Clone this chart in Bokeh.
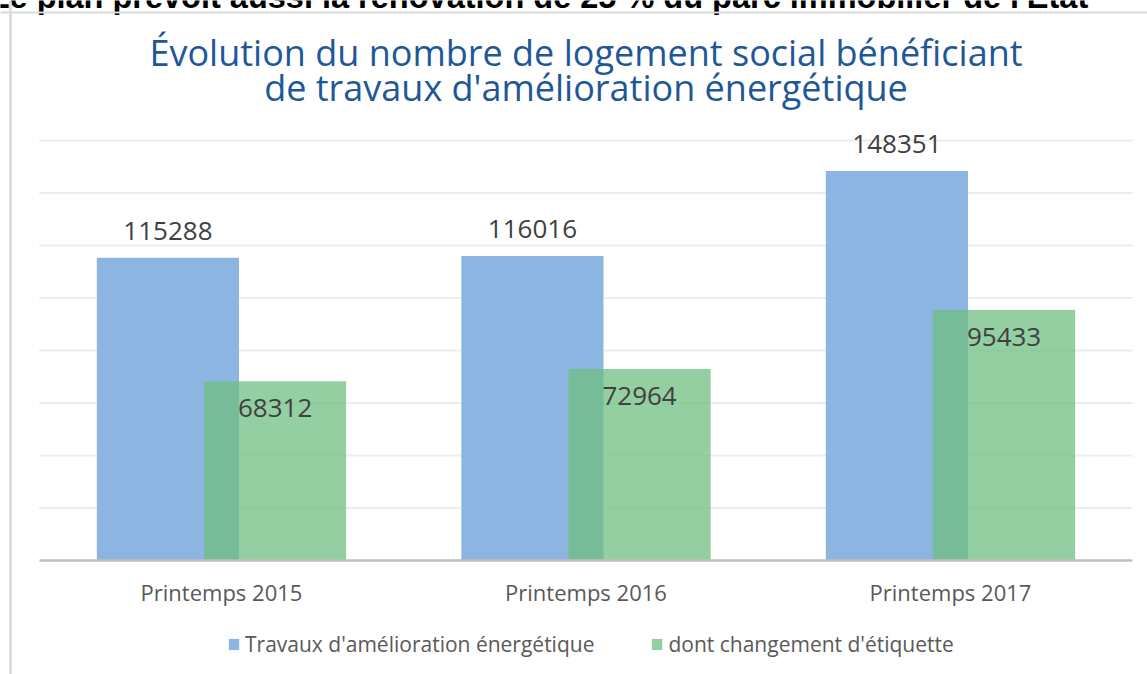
from bokeh.plotting import figure
from bokeh.models import (ColumnDataSource, FixedTicker, Legend, LegendItem, Span, Range1d)
from bokeh.core.properties import value
from bokeh.embed import file_html
from bokeh.resources import INLINE

# ---- data ----
categories = ["Printemps 2015", "Printemps 2016", "Printemps 2017"]
travaux = [115288, 116016, 148351]
etiquette = [68312, 72964, 95433]
series_names = ["Travaux d'amélioration énergétique", "dont changement d'étiquette"]
grid_ticks = [20000, 40000, 60000, 80000, 100000, 120000, 140000, 160000]
title_lines = ["Évolution du nombre de logement social bénéficiant",
               "de travaux d'amélioration énergétique"]
top_text = "Le plan prévoit aussi la rénovation de 25 % du parc immobilier de l'État"

W, H = 1147, 674
BLUE = "#8DB5E2"
GREEN = "#6FBF80"
FONT = "Open Sans"

xs = list(range(len(categories)))
src = ColumnDataSource(dict(
    x=xs,
    xb=[x - 0.147 for x in xs],
    xg=[x + 0.147 for x in xs],
    travaux=travaux,
    etiquette=etiquette,
    tl=[str(v) for v in travaux],
    el=[str(v) for v in etiquette],
))

p = figure(width=W, height=H, output_backend="svg", toolbar_location=None,
           title=None, y_axis_location=None,
           x_range=Range1d(-0.6063, 2.5405), y_range=Range1d(-43429, 213333),
           min_border_left=0, min_border_right=0, min_border_top=0,
           min_border_bottom=0)
p.outline_line_color = None
p.xgrid.visible = False
p.ygrid.visible = False
p.background_fill_color = "white"
p.border_fill_color = "white"

# border of the chart box
p.add_layout(Span(location=-0.5789, dimension="height", line_color="#D9D9D9", line_width=2.5))
p.add_layout(Span(location=208762, dimension="width", line_color="#D9D9D9", line_width=2))

# gridlines
p.segment(x0=[-0.5] * len(grid_ticks), x1=[2.5] * len(grid_ticks), y0=grid_ticks, y1=grid_ticks,
          line_color="#EDEDED", line_width=2)

rb = p.vbar(x="xb", top="travaux", bottom=0, width=0.39, source=src,
            fill_color=BLUE, line_color=None)
rg = p.vbar(x="xg", top="etiquette", bottom=0, width=0.39, source=src,
            fill_color=GREEN, fill_alpha=0.75, line_color=None)

p.text(x="xb", y="travaux", text="tl", source=src, y_offset=-27,
       text_align="center", text_baseline="middle",
       text_font=value(FONT), text_font_size="26px", text_color="#404040")
p.text(x="xg", y="etiquette", text="el", source=src, y_offset=27,
       text_align="center", text_baseline="middle",
       text_font=value(FONT), text_font_size="26px", text_color="#404040")

# title
p.text(x=[1.0, 1.0], y=[193333, 180190], text=title_lines,
       text_align="center", text_baseline="middle",
       text_font=value(FONT), text_font_size="36px", text_color="#1F5897")

# cropped text above the chart box
p.text(x=[-0.636], y=[214590], text=[top_text], text_align="left", text_baseline="middle",
       text_font=value("Liberation Sans"), text_font_style="bold", text_font_size="32.5px",
       text_color="#000000")

# x axis, fixed at y = 0
ax = p.xaxis[0]
ax.fixed_location = 0
ax.ticker = FixedTicker(ticks=xs)
ax.major_label_overrides = {i: c for i, c in enumerate(categories)}
ax.bounds = (-0.5, 2.5)
ax.axis_line_color = "#BFBFBF"
ax.axis_line_width = 2.5
ax.major_tick_line_color = None
ax.minor_tick_line_color = None
ax.major_label_standoff = 11
ax.major_label_text_font = FONT
ax.major_label_text_font_size = "22px"
ax.major_label_text_color = "#595959"

# legend below the axis labels
lg = Legend(items=[LegendItem(label=series_names[0], renderers=[rb]),
                   LegendItem(label=series_names[1], renderers=[rg])],
            location=(227, 16), orientation="horizontal", padding=0, margin=0, spacing=56,
            glyph_width=13, glyph_height=14, label_standoff=5,
            label_text_font=FONT, label_text_font_size="21px",
            label_text_color="#595959", border_line_color=None,
            background_fill_alpha=0)
p.add_layout(lg, "center")

open("out.html", "w").write(file_html(p, INLINE))
